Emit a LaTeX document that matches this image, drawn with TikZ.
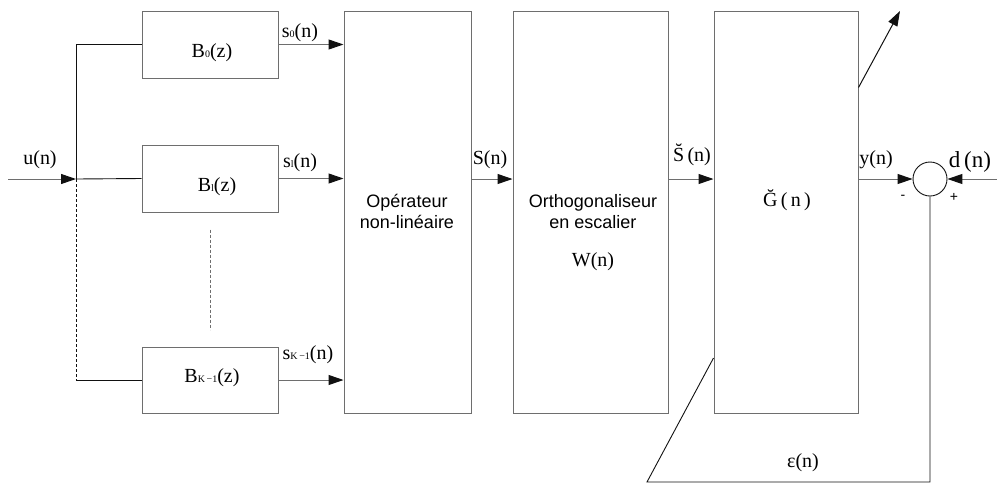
\documentclass[tikz,border=0pt]{standalone}
\usepackage{fontspec}
\setmainfont{Liberation Serif}
\setsansfont{Liberation Sans}
\usepackage{xcolor}
\usetikzlibrary{arrows.meta,positioning,calc}
\definecolor{boxgray}{HTML}{6E6E6E}
\definecolor{ink}{HTML}{111111}
\newcommand\subidx[1]{{\fontsize{10}{10}\selectfont #1}}
\tikzset{
    every picture/.style={line join=miter},
    blockbox/.style={draw=boxgray,fill=white,line width=1pt,inner sep=0pt},
    sumnode/.style={draw=ink,circle,line width=0.9pt,minimum size=34pt,inner sep=0pt},
    flowarrow/.style={-{Triangle[length=15pt,width=10pt,color=ink,fill=ink]},draw=boxgray,line width=1pt},
    wire/.style={draw=ink,line width=0.9pt},
    sigtext/.style={font=\fontsize{20}{22}\selectfont,inner sep=0pt},
    blocktext/.style={font=\sffamily\fontsize{18}{21}\selectfont,align=center,inner sep=0pt},
    signtext/.style={font=\sffamily\fontsize{14}{14}\selectfont,inner sep=1pt}
}
\begin{document}
\begin{tikzpicture}[x=1pt,y=-1pt]
  \useasboundingbox (0,0) rectangle (997,483);
  % filter bank
  \node[blockbox,minimum width=136pt,minimum height=67pt] (b0) at (210,44.5) {};
  \node[blockbox,minimum width=136pt,minimum height=67pt] (b1) at (210,178.5) {};
  \node[blockbox,minimum width=136pt,minimum height=66pt] (bk) at (210,380) {};
  \node[sigtext] (b0t) at (212,53) {B\subidx{0}(z)};
  \node[sigtext] (b1t) at (217,187) {B\subidx{l}(z)};
  \node[sigtext] (bkt) at (212,378) {B\subidx{K\,−1}(z)};
  % processing chain
  \node[blockbox,minimum width=127pt,minimum height=402pt] (op) at (407.5,212) {};
  \node[blockbox,minimum width=155pt,minimum height=402pt] (ortho) at (590.5,212) {};
  \node[blockbox,minimum width=144pt,minimum height=402pt] (gbox) at (786,212) {};
  \node[blocktext] (opt) at (407,211.5) {Opérateur\\non-linéaire};
  \node[blocktext] (orthot) at (593,211.5) {Orthogonaliseur\\en escalier};
  \node[sigtext] (wt) at (593,262) {W(n)};
  \node[sigtext] (gt) at (787,200) {\u{G}\,(\,n\,)};
  \node[sumnode] (sum) at (930,179) {};
  \coordinate (uin) at (8,179);
  \coordinate (jn) at (76,179);
  \coordinate (din) at (997,179);
  \coordinate (adapt) at (900,11);
  \coordinate (fbcorner) at (647,482);
  % connectors
  \draw[flowarrow] (uin) -- (jn);
  \draw[wire] (jn) -- (b1.west);
  \draw[wire] (jn) |- (b0.west);
  \draw[wire,dash pattern=on 3pt off 2pt] (jn) -- (jn |- bk.west);
  \draw[wire] (jn |- bk.west) -- (bk.west);
  \draw[boxgray,line width=1pt,dash pattern=on 3pt off 2pt] ([yshift=-17pt]b1.south) -- ([yshift=17pt]bk.north);
  \draw[flowarrow] (b0.east) -- (b0.east -| op.west);
  \draw[flowarrow] (b1.east) -- (b1.east -| op.west);
  \draw[flowarrow] (bk.east) -- (bk.east -| op.west);
  \draw[flowarrow] (sum.west -| op.east) -- (sum.west -| ortho.west);
  \draw[flowarrow] (sum.west -| ortho.east) -- (sum.west -| gbox.west);
  \draw[flowarrow] (sum.west -| gbox.east) -- (sum.west);
  \draw[flowarrow] (din) -- (sum.east);
  \draw[flowarrow,draw=ink] ([yshift=-77pt]gbox.north east) -- (adapt);
  \draw[wire] (sum.south) |- (fbcorner) -- ([yshift=-146pt]gbox.west);
  % signal labels
  \node[sigtext] (ulab) at (40,160) {u(n)};
  \node[sigtext] (s0lab) at (300,33) {s\subidx{0}(n)};
  \node[sigtext] (s1lab) at (300,163) {s\subidx{l}(n)};
  \node[sigtext] (sklab) at (308,355) {s\subidx{K\,−1}(n)};
  \node[sigtext] (slab) at (490,160) {S(n)};
  \node[sigtext] (stlab) at (692,155) {\u{S}\,(n)};
  \node[sigtext] (ylab) at (876,160) {y(n)};
  \node[sigtext,font=\fontsize{23}{25}\selectfont] (dlab) at (970,162) {d\,(n)};
  \node[signtext] (minus) at (903,197) {-};
  \node[signtext] (plus) at (954,197) {+};
  \node[sigtext] (elab) at (803,463) {ε(n)};
\end{tikzpicture}
\end{document}
